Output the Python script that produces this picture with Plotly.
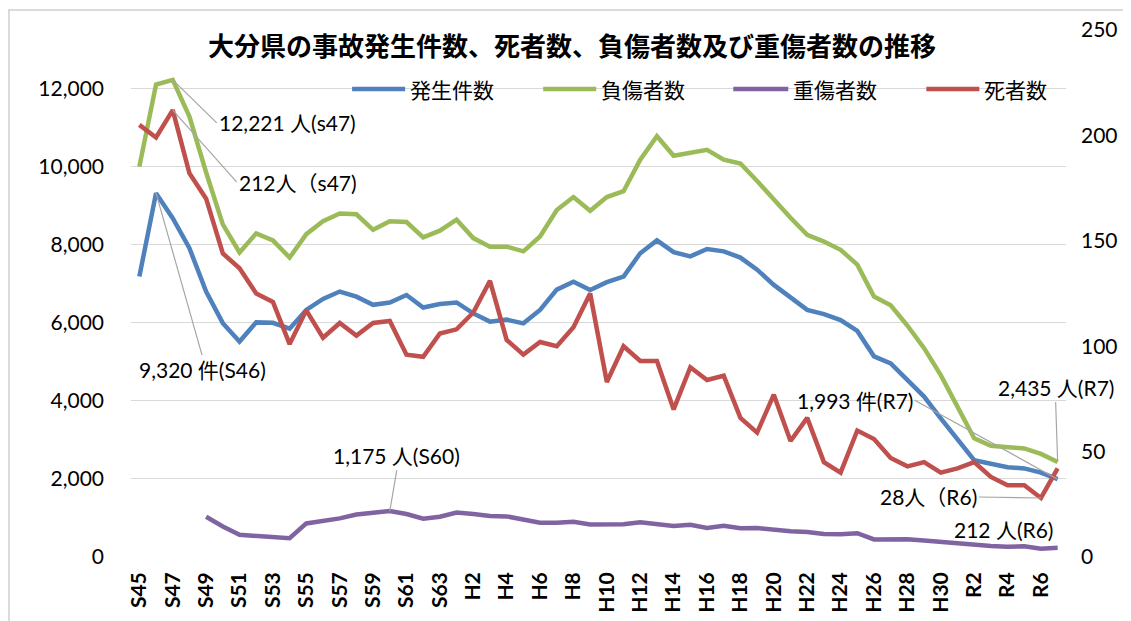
import plotly.graph_objects as go

categories = (["S%d" % n for n in range(45, 64)] + ["H%d" % n for n in range(1, 31)]
              + ["R%d" % n for n in range(1, 8)])

accidents = [7185, 9320, 8680, 7910, 6800, 5990, 5520, 6010, 6000, 5850,
             6330, 6610, 6800, 6670, 6460, 6520, 6710, 6390, 6480, 6520,
             6240, 6030, 6080, 5985, 6330, 6850, 7050, 6840, 7040, 7185,
             7780, 8110, 7810, 7700, 7890, 7830, 7670, 7360, 6970, 6650,
             6330, 6220, 6070, 5790, 5140, 4960, 4530, 4110, 3550, 3030,
             2480, 2390, 2300, 2270, 2160, 1993]

injured = [10000, 12100, 12221, 11280, 9850, 8520, 7800, 8290, 8110, 7670,
           8270, 8600, 8800, 8780, 8380, 8600, 8580, 8190, 8360, 8640,
           8170, 7950, 7950, 7830, 8210, 8890, 9220, 8870, 9220, 9370,
           10180, 10780, 10280, 10350, 10430, 10180, 10080, 9630, 9150, 8690,
           8250, 8080, 7870, 7490, 6670, 6450, 5930, 5350, 4660, 3880,
           3040, 2850, 2810, 2780, 2640, 2435]

serious = [None, None, None, None, 1030, 780, 570, 540, 530, 480,
           860, 920, 990, 1090, 1140, 1175, 1100, 980, 1030, 1140,
           1100, 1050, 1040, 970, 880, 875, 905, 835, 835, 840,
           890, 845, 795, 825, 745, 800, 735, 740, 690, 660,
           640, 590, 580, 610, 450, 460, 455, 425, 385, 340,
           300, 280, 260, 275, 212, 240]

deaths = [205, 199, 212, 182, 170, 144, 137, 125, 121, 101,
          117, 104, 111, 105, 111, 112, 96, 95, 106, 108,
          116, 131, 103, 96, 102, 100, 109, 125, 83, 100,
          93, 93, 70, 90, 84, 86, 66, 59, 77, 55,
          66, 45, 40, 60, 56, 47, 43, 45, 40, 42,
          45, 38, 34, 34, 28, 42]

tick_labels = categories[::2]
series_names = ["発生件数", "負傷者数", "重傷者数", "死者数"]

BLUE, GREEN, PURPLE, RED = "#4F81BD", "#9BBB59", "#8064A2", "#C0504D"
colors = [BLUE, GREEN, PURPLE, RED]
FONT = "Lato, 'Noto Sans CJK JP', sans-serif"
JFONT = "'Noto Sans CJK JP', Lato, sans-serif"
LEAD = "#A6A6A6"

# the page places the figure 8px in from the top-left corner
OFF = 8
W, H = 1131 - OFF, 621 - OFF
ML, MT = 131 - OFF, 30 - OFF
MR = W - (1065.6 - OFF)
MB = H - (557 - OFF)
PW, PH = W - ML - MR, H - MT - MB


def px_x(px):
    return (px - OFF - ML) / PW


def px_y(py):
    return (H - MB - (py - OFF)) / PH


fig = go.Figure()
for name, vals, col, ax in zip(series_names, [accidents, injured, serious, deaths],
                               colors, ["y", "y", "y", "y2"]):
    fig.add_trace(go.Scatter(x=categories, y=vals, name=name, mode="lines", yaxis=ax,
                             showlegend=False, line=dict(color=col, width=4.5)))


def idx(c):
    return categories.index(c)


ann_font = dict(family=FONT, size=21, color="#000000")
annotations = [
    dict(x="S47", y=injured[idx("S47")], yref="y", text="12,221 人(s47)",
         ax=44, ay=43, xanchor="left", yanchor="middle"),
    dict(x="S47", y=deaths[idx("S47")], yref="y2", text="212人（s47)",
         ax=64, ay=72, xanchor="left", yanchor="middle"),
    dict(x="S46", y=accidents[idx("S46")], yref="y", text="9,320 件(S46)",
         ax=46, ay=162, xanchor="center", yanchor="top"),
    dict(x="S60", y=serious[idx("S60")], yref="y", text="1,175 人(S60)",
         ax=7, ay=-41, xanchor="center", yanchor="bottom"),
    dict(x="R7", y=accidents[idx("R7")], yref="y", text="1,993 件(R7)",
         ax=-143, ay=-79, xanchor="right", yanchor="middle"),
    dict(x="R7", y=injured[idx("R7")], yref="y", text="2,435 人(R7)",
         ax=-2, ay=-60, xanchor="center", yanchor="bottom"),
    dict(x="R6", y=deaths[idx("R6")], yref="y2", text="28人（R6)",
         ax=-62, ay=-1, xanchor="right", yanchor="middle"),
]
for a in annotations:
    a.update(xref="x", showarrow=True, arrowhead=0, arrowwidth=1.2, arrowcolor=LEAD,
             axref="pixel", ayref="pixel", font=ann_font, standoff=0, borderpad=1)
annotations.append(dict(x="R6", y=serious[idx("R6")], xref="x", yref="y",
                        text="212 人(R6)", showarrow=False, xanchor="center",
                        yanchor="middle", xshift=-37, yshift=19, font=ann_font))

# legend (drawn as line samples + text labels)
legend_line_px = [(352, 405), (543, 596), (733, 788), (926, 979)]
legend_y = px_y(89)
shapes = []
for (x0, x1), col, name in zip(legend_line_px, colors, series_names):
    shapes.append(dict(type="line", xref="paper", yref="paper", x0=px_x(x0), x1=px_x(x1),
                       y0=legend_y, y1=legend_y, line=dict(color=col, width=4.5)))
    annotations.append(dict(xref="paper", yref="paper", x=px_x(x1 + 3), y=legend_y,
                            text=name, showarrow=False, xanchor="left", yanchor="middle",
                            font=dict(family=JFONT, size=21, color="#000000")))

# chart frame
shapes.append(dict(type="rect", xref="paper", yref="paper",
                   x0=px_x(9), x1=px_x(1145), y0=px_y(650), y1=px_y(10),
                   line=dict(color="#D0D0D0", width=1.5), fillcolor="rgba(0,0,0,0)",
                   layer="above"))

fig.update_layout(
    width=W, height=H,
    margin=dict(l=ML, r=MR, t=MT, b=MB, autoexpand=False),
    paper_bgcolor="white", plot_bgcolor="white",
    font=dict(family=FONT, color="#000000"),
    title=dict(text="<b>大分県の事故発生件数、死者数、負傷者数及び重傷者数の推移</b>",
               x=(572 - OFF) / W, xanchor="center", y=1 - (47 - OFF) / H, yanchor="middle",
               font=dict(family=JFONT, size=26, color="#000000")),
    showlegend=False,
    xaxis=dict(type="category", categoryorder="array", categoryarray=categories,
               range=[-0.5, 55.5], tickmode="array", tickvals=tick_labels,
               ticktext=tick_labels, tickangle=-90, showgrid=False, zeroline=False,
               showline=False, ticks="", ticklabelstandoff=10, automargin=False,
               tickfont=dict(family=FONT, size=21, color="#000000", weight="bold")),
    yaxis=dict(range=[0, 13500], tickvals=[0, 2000, 4000, 6000, 8000, 10000, 12000],
               tickformat=",d", showgrid=True, gridcolor="#D9D9D9", gridwidth=1.3,
               zeroline=False, showline=False, ticks="", ticklabelstandoff=26,
               automargin=False, tickfont=dict(family=FONT, size=21, color="#000000")),
    yaxis2=dict(range=[0, 250], tickvals=[0, 50, 100, 150, 200, 250], overlaying="y",
                side="right", showgrid=False, zeroline=False, showline=False, ticks="",
                ticklabelstandoff=14, automargin=False,
                tickfont=dict(family=FONT, size=21, color="#000000")),
    annotations=annotations,
    shapes=shapes,
)

fig.write_html("out.html")
